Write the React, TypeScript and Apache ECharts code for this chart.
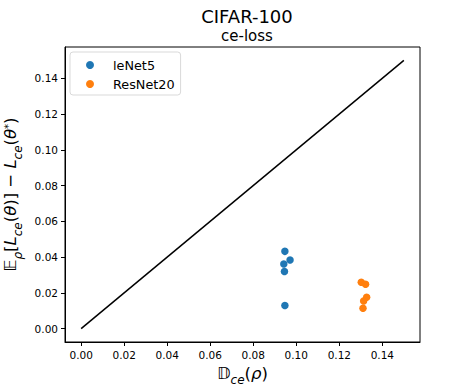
import React, { useEffect, useRef } from "react";
import * as echarts from "echarts";

const titleText = "CIFAR-100";
const subtitleText = "ce-loss";
const seriesNames = ["leNet5", "ResNet20"];
const lenet5Points: [number, number][] = [
  [0.0947, 0.0432],
  [0.0971, 0.0384],
  [0.0942, 0.0361],
  [0.0945, 0.0319],
  [0.0947, 0.0129],
];
const resnet20Points: [number, number][] = [
  [0.1302, 0.0259],
  [0.1322, 0.0248],
  [0.1327, 0.0175],
  [0.1313, 0.0154],
  [0.131, 0.0114],
];
const diagonal: [number, number][] = [
  [0, 0],
  [0.15, 0.15],
];
const tickValues = [0, 0.02, 0.04, 0.06, 0.08, 0.1, 0.12, 0.14];
const axisMin = -0.0075;
const axisMax = 0.1575;

const FONT = "DejaVu Sans";

const mathRich = {
  n: { fontFamily: FONT, fontSize: 16.5, color: "#000", lineHeight: 20 },
  i: { fontFamily: FONT, fontSize: 16.5, fontStyle: "italic", color: "#000", lineHeight: 20 },
  sub: {
    fontFamily: FONT,
    fontSize: 12,
    fontStyle: "italic",
    color: "#000",
    lineHeight: 20,
    verticalAlign: "bottom",
    padding: [0, 0, -3, 0],
  },
  sup: {
    fontFamily: FONT,
    fontSize: 10,
    color: "#000",
    lineHeight: 20,
    verticalAlign: "top",
    padding: [3, 0, 0, 0],
  },
};

export default function App() {
  const ref = useRef<HTMLDivElement>(null);
  useEffect(() => {
    if (!ref.current) return;
    const chart = echarts.init(ref.current, undefined, { renderer: "svg" });
    const axisCommon = {
      type: "value" as const,
      min: axisMin,
      max: axisMax,
      splitLine: { show: false },
      axisLine: { show: true, onZero: false, lineStyle: { color: "#000", width: 1 } },
      axisTick: {
        show: true,
        inside: false,
        length: 4,
        customValues: tickValues,
        lineStyle: { color: "#000", width: 1 },
      },
    };
    chart.setOption({
      animation: false,
      backgroundColor: "#fff",
      title: [
        {
          text: titleText,
          left: 242,
          top: 2,
          textAlign: "center",
          textStyle: { fontFamily: FONT, fontSize: 18, fontWeight: "normal", color: "#000" },
        },
        {
          text: subtitleText,
          left: 242,
          top: 23,
          textAlign: "center",
          textStyle: { fontFamily: FONT, fontSize: 15, fontWeight: "normal", color: "#000" },
        },
      ],
      grid: {
        left: 65,
        right: 47,
        top: 47,
        bottom: 47,
        show: true,
        borderColor: "#000",
        borderWidth: 1,
        backgroundColor: "transparent",
        containLabel: false,
        outerBoundsMode: "none",
      },
      legend: {
        left: 70,
        top: 52,
        orient: "vertical",
        data: seriesNames.map((n) => ({ name: n, icon: "circle" })),
        itemWidth: 8,
        itemHeight: 8,
        itemGap: 5,
        padding: [6, 6, 4, 16],
        borderColor: "#d9d9d9",
        borderWidth: 1,
        borderRadius: 3,
        backgroundColor: "rgba(255,255,255,0.8)",
        textStyle: {
          fontFamily: FONT,
          fontSize: 12.8,
          color: "#000",
          lineHeight: 14,
          padding: [0, 0, 0, 14],
        },
      },
      xAxis: {
        ...axisCommon,
        name: "{n|𝔻}{sub|ce}{n|(}{i|ρ}{n|)}",
        nameLocation: "middle",
        nameGap: 19,
        nameTextStyle: { rich: mathRich },
        axisLabel: {
          customValues: tickValues,
          formatter: (v: number) => v.toFixed(2),
          fontFamily: FONT,
          fontSize: 10.5,
          color: "#000",
          margin: 7,
        },
      },
      yAxis: {
        ...axisCommon,
        name:
          "{n|𝔼}{sub|ρ}{n|[}{i|L}{sub|ce}{n|(}{i|θ}{n|)] − }{i|L}{sub|ce}{n|(}{i|θ}{sup|*}{n|)}",
        nameLocation: "middle",
        nameRotate: 90,
        nameGap: 38,
        nameTextStyle: { rich: mathRich },
        axisLabel: {
          customValues: tickValues,
          formatter: (v: number) => v.toFixed(2),
          fontFamily: FONT,
          fontSize: 10.5,
          color: "#000",
          margin: 7,
        },
      },
      series: [
        {
          type: "line",
          data: diagonal,
          symbol: "none",
          lineStyle: { color: "#000", width: 1.5 },
          silent: true,
          z: 1,
        },
        {
          name: seriesNames[0],
          type: "scatter",
          data: lenet5Points,
          symbol: "circle",
          symbolSize: 7.5,
          itemStyle: { color: "#1f77b4", opacity: 1 },
          z: 2,
        },
        {
          name: seriesNames[1],
          type: "scatter",
          data: resnet20Points,
          symbol: "circle",
          symbolSize: 7.5,
          itemStyle: { color: "#ff7f0e", opacity: 1 },
          z: 2,
        },
      ],
    });
    return () => chart.dispose();
  }, []);
  return (
    <div
      ref={ref}
      style={{ position: "fixed", left: 0, top: 0, width: 467, height: 389 }}
    />
  );
}
